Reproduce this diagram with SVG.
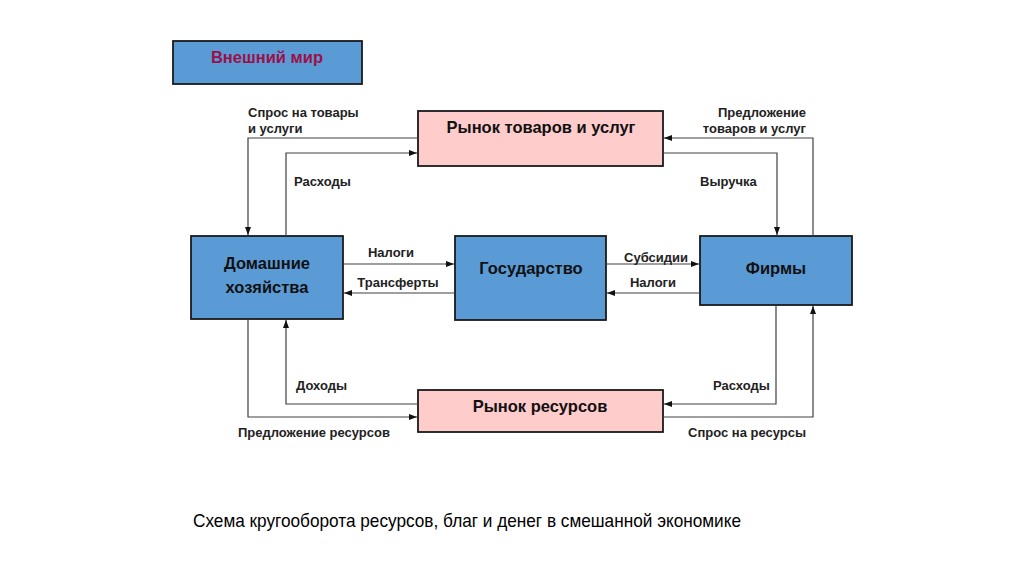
<svg xmlns="http://www.w3.org/2000/svg" width="1024" height="574" viewBox="0 0 1024 574">
<defs>
<marker id="ah" viewBox="0 0 8 6" refX="8" refY="3" markerWidth="8" markerHeight="6" markerUnits="userSpaceOnUse" orient="auto">
<path d="M0,0 L8,3 L0,6 z" fill="#111"/>
</marker>
<style>
.blue{fill:#5B9BD5;stroke:#1a1a1a;stroke-width:1.8}
.pink{fill:#FFCCCC;stroke:#1a1a1a;stroke-width:1.8}
.title{font-family:"Liberation Sans",Arial,sans-serif;font-weight:bold;font-size:16.5px;fill:#111;text-anchor:middle}
.lbl{font-family:"Liberation Sans",Arial,sans-serif;font-weight:bold;font-size:13px;fill:#222}
.ln{fill:none;stroke:#404040;stroke-width:1.2;marker-end:url(#ah)}
</style>
</defs>
<rect width="1024" height="574" fill="#fff"/>
<g id="outer-world">
<rect class="blue" x="173" y="41" width="189" height="43"/>
<text class="title" x="267" y="63" style="fill:#9B1048">Внешний мир</text>
</g>
<g id="goods-market">
<rect class="pink" x="418" y="111" width="245" height="55"/>
<text class="title" x="541" y="133">Рынок товаров и услуг</text>
</g>
<g id="households">
<rect class="blue" x="191" y="236" width="152" height="83"/>
<text class="title" x="267" y="269">Домашние</text>
<text class="title" x="267" y="293">хозяйства</text>
</g>
<g id="government">
<rect class="blue" x="455" y="236" width="151" height="84"/>
<text class="title" x="531" y="274">Государство</text>
</g>
<g id="firms">
<rect class="blue" x="700" y="236" width="152" height="69"/>
<text class="title" x="776" y="274">Фирмы</text>
</g>
<g id="resource-market">
<rect class="pink" x="418" y="390" width="245" height="42"/>
<text class="title" x="540" y="412">Рынок ресурсов</text>
</g>
<g id="connectors">
<path class="ln" d="M418,138 H248 V235"/>
<path class="ln" d="M286,236 V153 H417"/>
<path class="ln" d="M813,236 V138 H664"/>
<path class="ln" d="M663,153 H777 V235"/>
<path class="ln" d="M343,264 H454"/>
<path class="ln" d="M455,293 H344"/>
<path class="ln" d="M606,264 H699"/>
<path class="ln" d="M700,293 H607"/>
<path class="ln" d="M418,404 H286 V320"/>
<path class="ln" d="M248,319 V417 H417"/>
<path class="ln" d="M776,305 V404 H664"/>
<path class="ln" d="M663,417 H813 V306"/>
</g>
<g id="labels">
<text class="lbl" x="248" y="117">Спрос на товары</text>
<text class="lbl" x="248" y="133">и услуги</text>
<text class="lbl" x="294" y="186">Расходы</text>
<text class="lbl" x="806" y="117" text-anchor="end">Предложение</text>
<text class="lbl" x="806" y="133" text-anchor="end">товаров и услуг</text>
<text class="lbl" x="700" y="186">Выручка</text>
<text class="lbl" x="391" y="257" text-anchor="middle">Налоги</text>
<text class="lbl" x="398" y="287" text-anchor="middle">Трансферты</text>
<text class="lbl" x="656" y="262" text-anchor="middle">Субсидии</text>
<text class="lbl" x="653" y="287" text-anchor="middle">Налоги</text>
<text class="lbl" x="296" y="390">Доходы</text>
<text class="lbl" x="238" y="437">Предложение ресурсов</text>
<text class="lbl" x="713" y="390">Расходы</text>
<text class="lbl" x="688" y="437">Спрос на ресурсы</text>
</g>
<text x="193" y="527" font-family="'Liberation Sans',Arial,sans-serif" font-size="18.5" fill="#000" textLength="548" lengthAdjust="spacingAndGlyphs">Схема кругооборота ресурсов, благ и денег в смешанной экономике</text>
</svg>
